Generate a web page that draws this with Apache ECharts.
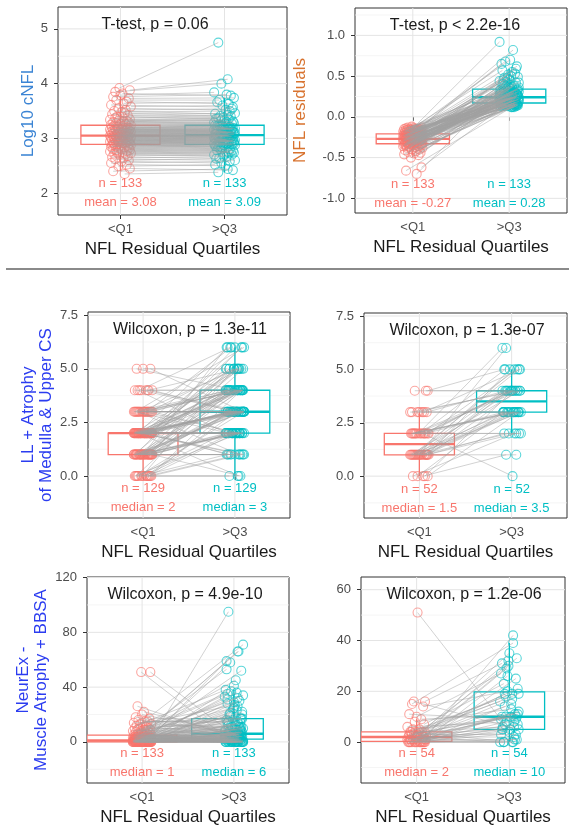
<!DOCTYPE html>
<html>
<head>
<meta charset="utf-8">
<script src="https://cdn.jsdelivr.net/npm/echarts@6/dist/echarts.min.js"></script>
<style>
  html, body { margin: 0; padding: 0; background: #ffffff; }
  #chart { width: 569px; height: 829px; }
</style>
</head>
<body>
<div id="chart"></div>
<script>
// ---------- data ----------
const groupLabels = ['<Q1', '>Q3'];

// Log10 cNFL, paired subjects (n = 133)
const cnflLow = [
  2.35,2.40,2.45,2.49,2.52,2.55,2.58,2.60,2.62,2.64,2.66,2.68,2.70,2.71,2.72,2.73,2.74,2.75,2.76,2.77,
  2.78,2.79,2.80,2.81,2.82,2.83,2.84,2.85,2.86,2.86,2.87,2.88,2.88,2.89,
  2.90,2.90,2.91,2.91,2.92,2.92,2.93,2.93,2.94,2.94,2.95,2.95,2.96,2.96,2.97,2.97,2.98,2.98,2.99,2.99,
  3.00,3.00,3.01,3.01,3.02,3.02,3.03,3.03,3.04,3.04,3.04,3.05,3.05,
  3.06,3.06,3.07,3.07,3.08,3.08,3.09,3.09,3.10,3.10,3.11,3.11,3.12,3.12,3.13,3.13,3.14,3.14,3.15,3.15,
  3.16,3.16,3.17,3.17,3.18,3.18,3.19,3.20,3.20,3.21,3.22,3.23,3.24,
  3.25,3.26,3.27,3.28,3.29,3.30,3.31,3.32,3.33,3.34,3.35,3.37,3.39,3.40,3.42,3.44,3.46,3.48,3.50,3.52,
  3.55,3.58,3.61,3.64,3.67,3.70,3.73,3.76,3.79,3.82,3.85,3.88,3.92
];
const cnflHigh = [
  2.38,2.44,2.42,2.52,2.50,2.58,2.55,2.63,2.60,2.67,2.64,2.70,2.68,2.74,2.70,2.76,2.72,2.78,2.74,2.80,
  2.76,2.82,2.78,2.84,2.80,2.86,2.82,2.88,2.84,2.89,2.85,2.90,2.86,2.91,
  2.88,2.93,2.89,2.94,2.90,2.95,2.91,2.96,2.92,2.97,2.93,2.98,2.94,2.99,2.95,3.00,2.96,3.01,2.97,3.02,
  2.98,3.03,2.99,3.04,3.00,3.05,3.01,3.06,3.02,3.07,3.03,3.06,3.04,
  3.08,3.04,3.09,3.05,3.10,3.06,3.11,3.07,3.12,3.08,3.13,3.09,3.14,3.10,3.15,3.11,3.16,3.12,3.17,3.13,
  3.18,3.14,3.19,3.15,3.20,3.16,3.22,3.18,3.23,3.19,3.24,3.21,3.26,
  3.23,3.28,3.25,3.30,3.27,3.33,3.29,3.35,3.31,3.37,3.33,3.40,3.36,3.43,3.38,3.46,3.41,3.50,3.45,3.54,
  3.52,3.60,3.57,3.66,3.63,3.70,3.74,3.80,3.84,3.78,4.00,4.08,4.75
];

// NFL residuals (n = 133)
const residLow = [
  -0.70,-0.66,-0.62,-0.50,-0.47,-0.46,-0.45,-0.44,-0.43,-0.42,-0.41,-0.40,-0.40,-0.39,-0.38,-0.38,-0.37,-0.37,
  -0.36,-0.36,-0.36,-0.35,-0.35,-0.35,-0.34,-0.34,-0.34,-0.34,-0.33,-0.33,-0.33,-0.33,-0.33,-0.33,
  -0.32,-0.32,-0.32,-0.32,-0.31,-0.31,-0.31,-0.31,-0.30,-0.30,-0.30,-0.30,-0.30,-0.29,-0.29,-0.29,-0.29,
  -0.29,-0.29,-0.28,-0.28,-0.28,-0.28,-0.28,-0.28,-0.28,-0.28,-0.27,-0.27,-0.27,-0.27,-0.27,-0.27,
  -0.26,-0.26,-0.26,-0.26,-0.26,-0.25,-0.25,-0.25,-0.25,-0.25,-0.24,-0.24,-0.24,-0.24,-0.24,-0.24,
  -0.23,-0.23,-0.23,-0.23,-0.23,-0.23,-0.22,-0.22,-0.22,-0.22,-0.22,-0.22,-0.21,-0.21,-0.21,-0.21,-0.21,
  -0.20,-0.20,-0.20,-0.19,-0.19,-0.19,-0.19,-0.18,-0.18,-0.18,-0.18,-0.18,-0.17,-0.17,-0.17,-0.17,-0.17,
  -0.16,-0.16,-0.16,-0.16,-0.16,-0.15,-0.15,-0.15,-0.15,-0.15,-0.14,-0.14,-0.14,-0.13,-0.13,-0.12
];
const residHigh = [
  0.35,0.12,0.25,0.17, 0.35,0.12,0.25,0.18, 0.36,0.12,0.25,0.18, 0.36,0.13,0.25,0.18,
  0.37,0.13,0.26,0.18, 0.37,0.13,0.26,0.19, 0.38,0.13,0.26,0.19, 0.38,0.13,0.26,0.19,
  0.39,0.14,0.27,0.19, 0.40,0.14,0.27,0.20, 0.40,0.14,0.27,0.20, 0.41,0.14,0.27,0.20,
  0.42,0.14,0.28,0.20, 0.42,0.14,0.28,0.21, 0.43,0.15,0.28,0.21, 0.44,0.15,0.28,0.21,
  0.45,0.15,0.29,0.21, 0.46,0.15,0.29,0.22, 0.47,0.15,0.29,0.22, 0.48,0.15,0.30,0.22,
  0.49,0.15,0.30,0.22, 0.50,0.16,0.30,0.23, 0.52,0.16,0.31,0.23, 0.53,0.16,0.31,0.23,
  0.55,0.16,0.31,0.23, 0.57,0.16,0.32,0.23, 0.59,0.16,0.32,0.24, 0.62,0.16,0.32,0.24,
  0.65,0.16,0.33,0.24, 0.68,0.17,0.33,0.24, 0.70,0.17,0.33,0.24, 0.82,0.17,0.34,0.24,
  0.92,0.17,0.34,0.24, 0.17
];

// LL + Atrophy of Medulla & Upper CS, all pairs (n = 129)
const llLow = [
  0,0,0,0,0,0,0,0,0,0,0,0,0,0,0,
  1,1,1,1,1,1,1,1,1,1,1,1,1,1,1,1,1,1,1,1,1,1,1,1,1,1,1,1,1,1,1,1,1,1,1,
  2,2,2,2,2,2,2,2,2,2,2,2,2,2,2,2,2,2,2,2,2,2,2,2,2,2,2,2,2,2,2,2,2,2,2,2,2,2,2,2,2,2,2,2,2,2,2,2,
  3,3,3,3,3,3,3,3,3,3,3,3,3,3,3,3,3,3,3,3,
  4,4,4,4,4,4,4,4,
  5,5,5
];
const llHigh = [
  0,0,1,1,2,2,2,3,3,3,4,4,5,1,2,
  0,1,1,1,1,2,2,2,2,2,2,2,3,3,3,3,3,3,3,3,3,4,4,4,4,4,4,4,5,5,5,5,6,6,2,
  0,1,1,1,2,2,2,2,2,2,2,3,3,3,3,3,3,3,3,3,3,3,3,4,4,4,4,4,4,4,4,4,4,4,5,5,5,5,5,6,6,6,1,2,2,3,4,5,
  1,2,2,3,3,3,3,3,3,4,4,4,4,4,4,5,5,6,6,2,
  2,3,3,3,4,4,5,6,
  3,4,5
];

// LL + Atrophy of Medulla & Upper CS, subset (n = 52)
const llSubLow = [
  0,0,0,0,0,
  1,1,1,1,1,1,1,1,1,1,1,1,1,1,1,1,1,1,1,1,1,
  2,2,2,2,2,2,2,2,2,2,2,2,2,2,2,2,
  3,3,3,3,3,3,3,
  4,4,4
];
const llSubHigh = [
  1,2,3,3,4,
  1,2,2,3,3,3,3,3,3,4,4,4,4,4,4,5,5,5,6,2,3,
  0,2,3,3,3,3,4,4,4,4,5,5,6,3,4,2,
  3,3,4,4,5,3,4,
  4,4,5
];

// NeurEx - Muscle Atrophy + BBSA, all pairs (n = 133)
const neurLow = [
  0,0,0,0,0,0,0,0,0,0,0,0,0,0,0,0,0,0,0,0,0,0,0,0,0,0,0,0,0,0,0,0,0,0,0,0,0,0,0,0,0,0,0,0,0,
  1,1,1,1,1,1,1,1,1,1,1,1,1,1,1,1,1,1,1,1,1,1,1,1,1,
  2,2,2,2,2,2,2,2,2,2,
  3,3,3,3,3,3,3,3,
  4,4,4,4,4,4,4,
  5,5,5,5,5,5,
  6,6,6,7,7,7,8,8,8,9,9,9,10,10,10,11,11,12,12,13,13,14,15,15,16,17,18,20,22,26,51,51
];
const neurHigh = [
  0,0,0,0,0,0,0,0,0,0,1,1,1,2,2,2,3,3,4,4,5,5,6,6,7,8,9,10,12,14,16,18,20,22,24,26,28,30,33,36,41,52,58,66,95,
  0,0,0,0,0,0,1,1,2,2,3,3,4,4,5,5,6,6,7,10,13,17,21,29,59,
  0,0,1,2,3,5,8,11,23,31,
  0,1,3,4,6,9,15,32,
  0,2,4,6,11,19,34,
  0,1,3,5,12,35,
  20,0,45,7,37,3,66,8,12,25,5,53,9,16,71,6,13,38,10,27,11,17,14,15,7,17,6,8,5,4,4,2
];

// NeurEx - Muscle Atrophy + BBSA, subset (n = 54)
const neurSubLow = [
  0,0,0,0,0,0,0,0,0,0,0,0,0,0,
  1,1,1,1,1,1,1,1,1,
  2,2,2,2,2,2,
  3,3,3,3,3,3,
  4,4,4,4,4,4,
  5,5,6,7,8,9,10,11,14,15,16,16,51
];
const neurSubHigh = [
  0,0,1,3,5,6,8,10,12,15,19,25,30,42,
  0,1,4,5,7,10,17,26,33,
  0,2,9,10,19,29,
  3,5,10,14,21,32,
  0,6,11,16,19,35,
  10,18,8,23,13,11,27,9,20,39,31,5,7
];

// horizontal jitter of each subject's point, in group units
const jitterLow = [
  0.04,-0.07,0.09,-0.02,0.06,-0.09,0.01,0.08,-0.05,0.03,-0.08,0.07,-0.01,0.05,-0.06,0.10,-0.03,0.02,-0.10,0.06,
  -0.04,0.09,-0.07,0.00,0.08,-0.02,0.04,-0.09,0.07,-0.05,0.01,-0.08,0.10,-0.03,0.05,-0.06,0.02,0.09,-0.01,-0.07,
  0.06,-0.04,0.03,-0.10,0.08,-0.02,0.05,0.00,-0.08,0.07,-0.05,0.09,-0.03,0.01,-0.06,0.04,0.10,-0.09,0.02,-0.01,
  0.07,-0.04,0.05,-0.07,0.03,-0.10,0.08,0.01,-0.05,0.06,-0.02,0.09,-0.08,0.04,-0.03,0.00,0.07,-0.06,0.02,-0.09,
  0.10,-0.01,0.05,-0.07,0.03,-0.04,0.08,-0.10,0.06,0.01,-0.05,0.09,-0.02,0.04,-0.08,0.07,-0.03,0.02,-0.06,0.10,
  -0.09,0.05,0.00,-0.04,0.08,-0.07,0.03,0.06,-0.01,-0.10,0.09,-0.05,0.02,-0.03,0.07,-0.08,0.04,0.01,-0.06,0.05,
  -0.02,0.10,-0.09,0.03,0.06,-0.04,0.08,-0.07,0.00,0.02,-0.05,0.09,-0.01
];
const jitterHigh = [
  -0.06,0.03,0.08,-0.09,0.01,0.05,-0.03,-0.08,0.10,0.02,-0.05,0.07,-0.01,0.04,-0.10,0.06,0.00,-0.07,0.09,-0.04,
  0.03,-0.02,0.08,-0.06,0.05,-0.09,0.01,0.10,-0.03,0.07,-0.08,0.02,-0.05,0.09,-0.01,0.04,-0.07,0.06,-0.10,0.03,
  0.00,0.08,-0.04,0.05,-0.06,0.02,0.09,-0.09,0.07,-0.02,0.04,-0.08,0.10,-0.05,0.01,0.06,-0.03,-0.07,0.08,0.03,
  -0.10,0.05,-0.01,0.09,-0.06,0.02,0.07,-0.04,0.00,-0.08,0.04,0.10,-0.02,0.06,-0.09,0.01,-0.05,0.08,0.03,-0.07,
  0.09,-0.03,0.05,-0.10,0.02,0.07,-0.06,0.04,-0.01,0.08,-0.08,0.00,0.06,-0.04,0.10,-0.02,0.03,-0.09,0.05,0.01,
  -0.07,0.09,-0.05,0.02,0.07,-0.03,-0.10,0.04,0.08,-0.06,0.00,0.06,-0.08,0.03,-0.01,0.10,-0.04,0.05,-0.09,0.07,
  0.01,-0.02,0.08,-0.07,0.04,-0.05,0.09,0.02,-0.10,0.06,-0.03,0.03,-0.06
];

// y-axis tick values
const ticksCnfl = [2, 3, 4, 5];
const ticksResid = [-1.0, -0.5, 0.0, 0.5, 1.0];
const ticksLL = [0.0, 2.5, 5.0, 7.5];
const ticksNeur = [0, 40, 80, 120];
const ticksNeurSub = [0, 20, 40, 60];

// test results and group summaries as printed on each panel
const testLabels = ['T-test, p = 0.06', 'T-test, p < 2.2e-16', 'Wilcoxon, p = 1.3e-11',
                    'Wilcoxon, p = 1.3e-07', 'Wilcoxon, p = 4.9e-10', 'Wilcoxon, p = 1.2e-06'];
const nLabels = ['133', '133', '129', '52', '133', '54'];
const statNames = ['mean', 'mean', 'median', 'median', 'median', 'median'];
const statLow = ['3.08', '-0.27', '2', '1.5', '1', '2'];
const statHigh = ['3.09', '0.28', '3', '3.5', '6', '10'];

// ---------- layout & style ----------
const RED = '#F8766D', TEAL = '#00BFC4';
const FONT = '"Liberation Sans", Arial, Helvetica, sans-serif';
const BOX_HALF = 0.38;

// boxSpan: horizontal extent of each group's box in group units [left, right]
const centred = [[1 - BOX_HALF, 1 + BOX_HALF], [2 - BOX_HALF, 2 + BOX_HALF]];
const panels = [
  { low: cnflLow, high: cnflHigh, ticks: ticksCnfl, minor: [2.5, 3.5, 4.5], min: 1.6, max: 5.4, dec: 0, boxSpan: centred,
    grid: { left: 58, top: 7, width: 229, height: 208 }, testX: 155, yName: 'Log10 cNFL', yColor: '#3b84d4', yGap: 21 },
  { low: residLow, high: residHigh, ticks: ticksResid, minor: [-0.75, -0.25, 0.25, 0.75, 1.25], min: -1.18, max: 1.336, dec: 1, boxSpan: centred,
    grid: { left: 355, top: 8, width: 212, height: 205 }, testX: 455, yName: 'NFL residuals', yColor: '#d8732f', yGap: 46 },
  { low: llLow, high: llHigh, ticks: ticksLL, minor: [-1.25, 1.25, 3.75, 6.25], min: -1.96, max: 7.65, dec: 1, boxSpan: centred,
    grid: { left: 88, top: 312, width: 202, height: 206 }, testX: 190, yName: 'LL + Atrophy\nof Medulla & Upper CS', yColor: '#2b3cf0', yGap: 33 },
  { low: llSubLow, high: llSubHigh, ticks: ticksLL, minor: [-1.25, 1.25, 3.75, 6.25], min: -1.96, max: 7.64, dec: 1, boxSpan: centred,
    grid: { left: 364, top: 313, width: 203, height: 205 }, testX: 467, yName: '', yColor: '#2b3cf0', yGap: 36 },
  { low: neurLow, high: neurHigh, ticks: ticksNeur, minor: [-20, 20, 60, 100], min: -30, max: 120.4, dec: 0,
    boxSpan: [[0.4, 1.38], [1.54, 2.32]],
    grid: { left: 87, top: 577, width: 202, height: 206 }, testX: 185, yName: 'NeurEx -\nMuscle Atrophy + BBSA', yColor: '#2b3cf0', yGap: 37 },
  { low: neurSubLow, high: neurSubHigh, ticks: ticksNeurSub, minor: [-10, 10, 30, 50], min: -16.1, max: 65, dec: 0,
    boxSpan: [[0.4, 1.38], [2 - BOX_HALF, 2 + BOX_HALF]],
    grid: { left: 361, top: 577, width: 204, height: 206 }, testX: 464, yName: '', yColor: '#2b3cf0', yGap: 36 }
];

// ---------- helpers ----------
function quantile(sorted, p) {
  const h = (sorted.length - 1) * p;
  const i = Math.floor(h);
  const next = i + 1 < sorted.length ? sorted[i + 1] : sorted[i];
  return sorted[i] + (h - i) * (next - sorted[i]);
}
function boxStats(values) {
  const s = values.slice().sort((a, b) => a - b);
  const q1 = quantile(s, 0.25), med = quantile(s, 0.5), q3 = quantile(s, 0.75);
  const iqr = q3 - q1;
  const lo = s.find(v => v >= q1 - 1.5 * iqr);
  const hi = s.slice().reverse().find(v => v <= q3 + 1.5 * iqr);
  return [lo, q1, med, q3, hi];
}

function renderGridLine(params, api) {
  const cs = params.coordSys;
  const dir = api.value(0), v = api.value(1), major = api.value(2);
  const style = { stroke: major ? '#e4e4e4' : '#f0f0f0', lineWidth: major ? 1 : 0.7 };
  if (dir === 0) {
    const y = api.coord([1, v])[1];
    return { type: 'line', shape: { x1: cs.x, y1: y, x2: cs.x + cs.width, y2: y }, style };
  }
  const x = api.coord([v, 0])[0];
  return { type: 'line', shape: { x1: x, y1: cs.y, x2: x, y2: cs.y + cs.height }, style };
}

// item: [group, whiskerLow, q1, median, q3, whiskerHigh, boxLeft, boxRight]
function renderBox(params, api) {
  const x = api.value(0);
  const lo = api.value(1), q1 = api.value(2), med = api.value(3), q3 = api.value(4), hi = api.value(5);
  const x0 = api.value(6), x1 = api.value(7);
  const color = api.visual('color');
  const tl = api.coord([x0, q3]), br = api.coord([x1, q1]);
  const mL = api.coord([x0, med]), mR = api.coord([x1, med]);
  const pHi = api.coord([x, hi]), pQ3 = api.coord([x, q3]), pQ1 = api.coord([x, q1]), pLo = api.coord([x, lo]);
  const ls = { stroke: color, lineWidth: 1.3 };
  return {
    type: 'group',
    children: [
      { type: 'line', shape: { x1: pHi[0], y1: pHi[1], x2: pQ3[0], y2: pQ3[1] }, style: ls },
      { type: 'line', shape: { x1: pQ1[0], y1: pQ1[1], x2: pLo[0], y2: pLo[1] }, style: ls },
      { type: 'rect', shape: { x: tl[0], y: tl[1], width: br[0] - tl[0], height: br[1] - tl[1] },
        style: { fill: '#ffffff', stroke: color, lineWidth: 1.3 } },
      { type: 'line', shape: { x1: mL[0], y1: mL[1], x2: mR[0], y2: mR[1] }, style: { stroke: color, lineWidth: 2.4 } }
    ]
  };
}

function renderPair(params, api) {
  const a = api.coord([api.value(0), api.value(1)]);
  const b = api.coord([api.value(2), api.value(3)]);
  return { type: 'line', shape: { x1: a[0], y1: a[1], x2: b[0], y2: b[1] },
           style: { stroke: 'rgba(160,160,160,0.6)', lineWidth: 0.8 } };
}

// ---------- build option ----------
const grids = [], xAxes = [], yAxes = [], series = [], graphics = [];

panels.forEach((p, i) => {
  grids.push(Object.assign({ show: true, borderColor: '#333333', borderWidth: 1, backgroundColor: '#ffffff', containLabel: false }, p.grid));

  xAxes.push({
    type: 'value', gridIndex: i, min: 0.4, max: 2.6,
    axisLine: { show: false },
    axisTick: { show: true, customValues: [1, 2], length: 4, lineStyle: { color: '#333333' } },
    axisLabel: { show: true, customValues: [1, 2], margin: 8, color: '#4d4d4d', fontSize: 13, fontFamily: FONT,
                 formatter: v => groupLabels[Math.round(v) - 1] || '' },
    splitLine: { show: false },
    name: 'NFL Residual Quartiles', nameLocation: 'middle', nameGap: 26,
    nameTextStyle: { fontSize: 17, color: '#1a1a1a', fontFamily: FONT }
  });

  yAxes.push({
    type: 'value', gridIndex: i, min: p.min, max: p.max,
    axisLine: { show: false },
    axisTick: { show: true, customValues: p.ticks, length: 4, lineStyle: { color: '#333333' } },
    axisLabel: { show: true, customValues: p.ticks, margin: 10, color: '#4d4d4d', fontSize: 13, fontFamily: FONT,
                 formatter: v => Number(v).toFixed(p.dec) },
    splitLine: { show: false },
    name: p.yName, nameLocation: 'middle', nameGap: p.yGap, nameRotate: 90,
    nameTextStyle: { fontSize: 17, color: p.yColor, fontFamily: FONT, lineHeight: 18 }
  });

  // background grid lines: [direction, value, major]
  const gl = [];
  p.ticks.forEach(v => gl.push([0, v, 1]));
  p.minor.forEach(v => { if (v > p.min && v < p.max) gl.push([0, v, 0]); });
  gl.push([1, 1, 1], [1, 2, 1]);
  series.push({ type: 'custom', xAxisIndex: i, yAxisIndex: i, silent: true, z: 1,
                renderItem: renderGridLine, data: gl, animation: false });

  const sLow = boxStats(p.low), sHigh = boxStats(p.high);
  series.push({ type: 'custom', xAxisIndex: i, yAxisIndex: i, silent: true, z: 2, animation: false,
                renderItem: renderBox, clip: true,
                data: [ { value: [1].concat(sLow, p.boxSpan[0]), itemStyle: { color: RED } },
                        { value: [2].concat(sHigh, p.boxSpan[1]), itemStyle: { color: TEAL } } ] });

  series.push({ type: 'scatter', xAxisIndex: i, yAxisIndex: i, silent: true, z: 3, animation: false,
                symbol: 'circle', symbolSize: 9,
                itemStyle: { color: 'rgba(0,0,0,0)', borderColor: 'rgba(248,118,109,0.8)', borderWidth: 1.1 },
                data: p.low.map((v, k) => [1 + jitterLow[k], v]) });
  series.push({ type: 'scatter', xAxisIndex: i, yAxisIndex: i, silent: true, z: 3, animation: false,
                symbol: 'circle', symbolSize: 9,
                itemStyle: { color: 'rgba(0,0,0,0)', borderColor: 'rgba(0,191,196,0.8)', borderWidth: 1.1 },
                data: p.high.map((v, k) => [2 + jitterHigh[k], v]) });

  series.push({ type: 'custom', xAxisIndex: i, yAxisIndex: i, silent: true, z: 4, animation: false,
                renderItem: renderPair,
                data: p.low.map((v, k) => [1 + jitterLow[k], v, 2 + jitterHigh[k], p.high[k]]) });

  // panel annotations
  const g = p.grid;
  const xOf = c => g.left + (c - 0.4) / 2.2 * g.width;
  graphics.push({ type: 'text', x: p.testX, y: g.top + 18, z: 100,
                  style: { text: testLabels[i], fill: '#1a1a1a', font: '16px ' + FONT, align: 'center', verticalAlign: 'middle' } });
  [[1, RED, statLow[i]], [2, TEAL, statHigh[i]]].forEach(([c, col, st]) => {
    graphics.push({ type: 'text', x: xOf(c), y: g.top + 176, z: 100,
                    style: { text: 'n = ' + nLabels[i], fill: col, font: '13px ' + FONT, align: 'center', verticalAlign: 'middle' } });
    graphics.push({ type: 'text', x: xOf(c), y: g.top + 195, z: 100,
                    style: { text: statNames[i] + ' = ' + st, fill: col, font: '13px ' + FONT, align: 'center', verticalAlign: 'middle' } });
  });
});

// rule between the two figure rows
graphics.push({ type: 'line', shape: { x1: 6, y1: 269, x2: 569, y2: 269 }, style: { stroke: '#8a8a8a', lineWidth: 2 }, z: 100 });

const chart = echarts.init(document.getElementById('chart'), null, { renderer: 'canvas' });
chart.setOption({
  backgroundColor: '#ffffff',
  animation: false,
  grid: grids, xAxis: xAxes, yAxis: yAxes, series: series,
  graphic: graphics
});
</script>
</body>
</html>
